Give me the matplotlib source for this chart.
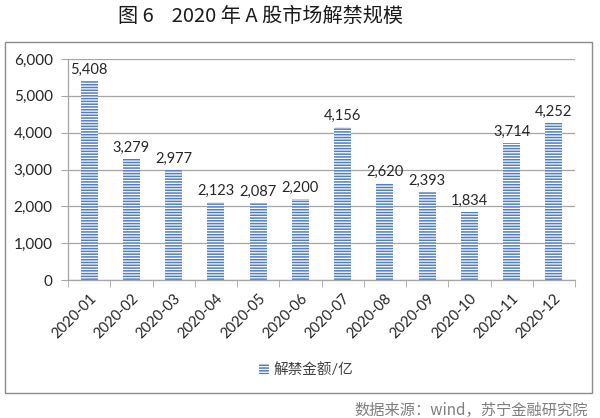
import matplotlib
matplotlib.use("Agg")
import matplotlib.pyplot as plt
from matplotlib.patches import Rectangle, Patch

plt.rcParams['font.family'] = ['Lato', 'Noto Sans CJK SC', 'DejaVu Sans']
plt.rcParams['hatch.linewidth'] = 1.1

# data
months = ['2020-01', '2020-02', '2020-03', '2020-04', '2020-05', '2020-06',
          '2020-07', '2020-08', '2020-09', '2020-10', '2020-11', '2020-12']
amounts = [5408, 3279, 2977, 2123, 2087, 2200, 4156, 2620, 2393, 1834, 3714, 4252]
y_ticks = [0, 1000, 2000, 3000, 4000, 5000, 6000]

blue = '#4f7fc0'
grey = '#a6a6a6'

fig = plt.figure(figsize=(6, 4.18), dpi=100)

# outer frame
fig.patches.append(Rectangle((5 / 600, 1 - 393 / 418), 587 / 600, 351 / 418,
                             transform=fig.transFigure, fill=False,
                             edgecolor='#8c8c8c', linewidth=1.0))

ax = fig.add_axes([68 / 600, 1 - 280 / 418, 507 / 600, 221 / 418])
x = list(range(len(months)))
bars = ax.bar(x, amounts, width=0.4, facecolor='white', edgecolor=blue,
              linewidth=0, hatch='------')

for xi, v in zip(x, amounts):
    ax.annotate(f'{v:,}', (xi, v), xytext=(0, 3), textcoords='offset points',
                ha='center', va='bottom', fontsize=10.5, color='#262626')

ax.set_xlim(-0.5, 11.5)
ax.set_ylim(0, 6000)
ax.set_yticks(y_ticks)
ax.set_yticklabels([f'{t:,}' for t in y_ticks], fontsize=11, color='#262626')
ax.yaxis.grid(True, color=grey, linewidth=0.9)
ax.set_axisbelow(True)

ax.set_xticks(x)
ax.set_xticklabels(months, rotation=45, ha='right', rotation_mode='anchor',
                   fontsize=10.5, color='#262626')
ax.set_xticks([i - 0.5 for i in range(len(months) + 1)], minor=True)
ax.tick_params(axis='x', which='major', length=0, pad=8)
ax.tick_params(axis='x', which='minor', length=5, color=grey)
ax.tick_params(axis='y', length=5, color=grey, pad=6)

for s in ['top', 'right']:
    ax.spines[s].set_visible(False)
for s in ['left', 'bottom']:
    ax.spines[s].set_color(grey)
    ax.spines[s].set_linewidth(0.9)

handle = Patch(facecolor='white', edgecolor=blue, linewidth=0, hatch='------')
fig.legend([handle], ['解禁金额/亿'], loc='center left',
           bbox_to_anchor=(246 / 600, 1 - 370 / 418), frameon=False,
           fontsize=10.5, handlelength=0.7, handleheight=0.7, handletextpad=0.3,
           labelcolor='#404040')

fig.text(260 / 600, 1 - 16 / 418, '图 6    2020 年 A 股市场解禁规模', ha='center',
         va='center', fontsize=14.5, family=['Noto Sans CJK SC', 'DejaVu Sans'],
         color='#1a1a1a')
fig.text(588 / 600, 1 - 410 / 418, '数据来源：wind，苏宁金融研究院', ha='right',
         va='center', fontsize=11, style='italic', color='#7f7f7f',
         family=['Noto Sans CJK SC', 'DejaVu Sans'])

fig.savefig('out.png', dpi=100)
